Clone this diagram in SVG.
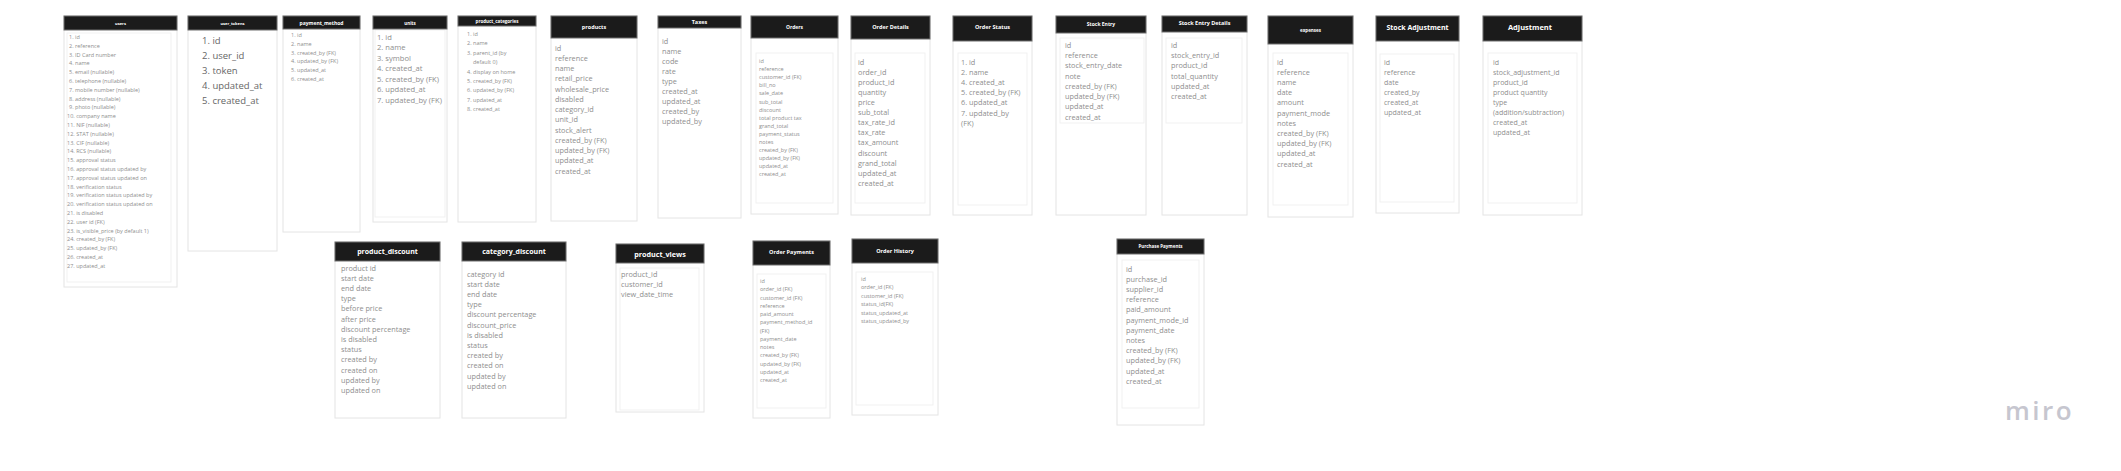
<svg xmlns="http://www.w3.org/2000/svg" width="2121" height="471" viewBox="0 0 2121 471">
<style>
.bg{fill:#ffffff}
.box{fill:#ffffff;stroke:#e4e4e4;stroke-width:1}
.inner{fill:none;stroke:#f1f1f1;stroke-width:1}
.hdr{fill:#1b1b1b;stroke:#6e6e6e;stroke-width:1}
.h{font-family:"Open Sans","Liberation Sans",sans-serif;font-weight:bold;fill:#ffffff;text-anchor:middle}
.t{font-family:"Open Sans","Liberation Sans",sans-serif;fill:#8e8e8e}
.s{font-size:5.5px}
.m{font-size:7.3px}
.logo{font-family:"Open Sans","Liberation Sans",sans-serif;font-size:26px;font-weight:600;fill:#c6c6cf;letter-spacing:2.5px}
</style>
<rect class="bg" x="0" y="0" width="2121" height="471"/>
<g id="connectors"/>

<g id="users">
<rect class="box" x="64" y="16" width="113" height="271"/>
<rect class="inner" x="67" y="33" width="104" height="249"/>
<rect class="hdr" x="64" y="16" width="113" height="14"/>
<text class="h" x="120.5" y="24.5" font-size="4">users</text>
<text class="t s" y="39">
<tspan x="69">1. id</tspan>
<tspan x="69" dy="8.8">2. reference</tspan>
<tspan x="69" dy="8.8">3. ID Card number</tspan>
<tspan x="69" dy="8.8">4. name</tspan>
<tspan x="69" dy="8.8">5. email (nullable)</tspan>
<tspan x="69" dy="8.8">6. telephone (nullable)</tspan>
<tspan x="69" dy="8.8">7. mobile number (nullable)</tspan>
<tspan x="69" dy="8.8">8. address (nullable)</tspan>
<tspan x="69" dy="8.8">9. photo (nullable)</tspan>
<tspan x="67" dy="8.8">10. company name</tspan>
<tspan x="67" dy="8.8">11. NIF (nullable)</tspan>
<tspan x="67" dy="8.8">12. STAT (nullable)</tspan>
<tspan x="67" dy="8.8">13. CIF (nullable)</tspan>
<tspan x="67" dy="8.8">14. RCS (nullable)</tspan>
<tspan x="67" dy="8.8">15. approval status</tspan>
<tspan x="67" dy="8.8">16. approval status updated by</tspan>
<tspan x="67" dy="8.8">17. approval status updated on</tspan>
<tspan x="67" dy="8.8">18. verification status</tspan>
<tspan x="67" dy="8.8">19. verification status updated by</tspan>
<tspan x="67" dy="8.8">20. verification status updated on</tspan>
<tspan x="67" dy="8.8">21. is disabled</tspan>
<tspan x="67" dy="8.8">22. user id (FK)</tspan>
<tspan x="67" dy="8.8">23. is_visible_price (by default 1)</tspan>
<tspan x="67" dy="8.8">24. created_by (FK)</tspan>
<tspan x="67" dy="8.8">25. updated_by (FK)</tspan>
<tspan x="67" dy="8.8">26. created_at</tspan>
<tspan x="67" dy="8.8">27. updated_at</tspan>
</text>
</g>

<g id="user_tokens">
<rect class="box" x="188" y="16" width="89" height="235"/>
<rect class="hdr" x="188" y="16" width="89" height="14"/>
<text class="h" x="232.5" y="24.5" font-size="4">user_tokens</text>
<text class="t" y="44.4" font-size="9.5" style="fill:#666">
<tspan x="202">1. id</tspan>
<tspan x="202" dy="14.8">2. user_id</tspan>
<tspan x="202" dy="14.8">3. token</tspan>
<tspan x="202" dy="14.8">4. updated_at</tspan>
<tspan x="202" dy="14.8">5. created_at</tspan>
</text>
</g>

<g id="payment_method">
<rect class="box" x="283" y="16" width="77" height="216"/>
<rect class="hdr" x="283" y="16" width="77" height="13"/>
<text class="h" x="321.5" y="24.5" font-size="5">payment_method</text>
<text class="t s" y="37">
<tspan x="291">1. id</tspan>
<tspan x="291" dy="8.8">2. name</tspan>
<tspan x="291" dy="8.8">3. created_by (FK)</tspan>
<tspan x="291" dy="8.8">4. updated_by (FK)</tspan>
<tspan x="291" dy="8.8">5. updated_at</tspan>
<tspan x="291" dy="8.8">6. created_at</tspan>
</text>
</g>

<g id="units">
<rect class="box" x="373" y="16" width="74" height="206"/>
<rect class="inner" x="375" y="30" width="70" height="187"/>
<rect class="hdr" x="373" y="16" width="74" height="13"/>
<text class="h" x="410" y="24.5" font-size="4.5">units</text>
<text class="t" y="39.7" font-size="7.6">
<tspan x="377">1. id</tspan>
<tspan x="377" dy="10.5">2. name</tspan>
<tspan x="377" dy="10.5">3. symbol</tspan>
<tspan x="377" dy="10.5">4. created_at</tspan>
<tspan x="377" dy="10.5">5. created_by (FK)</tspan>
<tspan x="377" dy="10.5">6. updated_at</tspan>
<tspan x="377" dy="10.5">7. updated_by (FK)</tspan>
</text>
</g>

<g id="product_categories">
<rect class="box" x="458" y="16" width="78" height="206"/>
<rect class="hdr" x="458" y="16" width="78" height="10"/>
<text class="h" x="497" y="22.6" font-size="4.5">product_categories</text>
<text class="t s" y="36">
<tspan x="467">1. id</tspan>
<tspan x="467" dy="9.4">2. name</tspan>
<tspan x="467" dy="9.4">3. parent_id (by</tspan>
<tspan x="473" dy="9.4">default 0)</tspan>
<tspan x="467" dy="9.4">4. display on home</tspan>
<tspan x="467" dy="9.4">5. created_by (FK)</tspan>
<tspan x="467" dy="9.4">6. updated_by (FK)</tspan>
<tspan x="467" dy="9.4">7. updated_at</tspan>
<tspan x="467" dy="9.4">8. created_at</tspan>
</text>
</g>

<g id="products">
<rect class="box" x="551" y="16" width="86" height="205"/>
<rect class="hdr" x="551" y="16" width="86" height="22"/>
<text class="h" x="594" y="29" font-size="5.5">products</text>
<text class="t m" y="50.5">
<tspan x="555">id</tspan>
<tspan x="555" dy="10.25">reference</tspan>
<tspan x="555" dy="10.25">name</tspan>
<tspan x="555" dy="10.25">retail_price</tspan>
<tspan x="555" dy="10.25">wholesale_price</tspan>
<tspan x="555" dy="10.25">disabled</tspan>
<tspan x="555" dy="10.25">category_id</tspan>
<tspan x="555" dy="10.25">unit_id</tspan>
<tspan x="555" dy="10.25">stock_alert</tspan>
<tspan x="555" dy="10.25">created_by (FK)</tspan>
<tspan x="555" dy="10.25">updated_by (FK)</tspan>
<tspan x="555" dy="10.25">updated_at</tspan>
<tspan x="555" dy="10.25">created_at</tspan>
</text>
</g>

<g id="taxes">
<rect class="box" x="658" y="16" width="83" height="202"/>
<rect class="hdr" x="658" y="16" width="83" height="12"/>
<text class="h" x="699.5" y="24" font-size="5.5">Taxes</text>
<text class="t m" y="43.5">
<tspan x="662">id</tspan>
<tspan x="662" dy="10.1">name</tspan>
<tspan x="662" dy="10.1">code</tspan>
<tspan x="662" dy="10.1">rate</tspan>
<tspan x="662" dy="10.1">type</tspan>
<tspan x="662" dy="10.1">created_at</tspan>
<tspan x="662" dy="10.1">updated_at</tspan>
<tspan x="662" dy="10.1">created_by</tspan>
<tspan x="662" dy="10.1">updated_by</tspan>
</text>
</g>

<g id="orders">
<rect class="box" x="751" y="16" width="87" height="198"/>
<rect class="inner" x="756" y="53" width="77" height="150"/>
<rect class="hdr" x="751" y="16" width="87" height="22"/>
<text class="h" x="794.5" y="28.8" font-size="5">Orders</text>
<text class="t s" y="63">
<tspan x="759">id</tspan>
<tspan x="759" dy="8.1">reference</tspan>
<tspan x="759" dy="8.1">customer_id (FK)</tspan>
<tspan x="759" dy="8.1">bill_no</tspan>
<tspan x="759" dy="8.1">sale_date</tspan>
<tspan x="759" dy="8.1">sub_total</tspan>
<tspan x="759" dy="8.1">discount</tspan>
<tspan x="759" dy="8.1">total product tax</tspan>
<tspan x="759" dy="8.1">grand_total</tspan>
<tspan x="759" dy="8.1">payment_status</tspan>
<tspan x="759" dy="8.1">notes</tspan>
<tspan x="759" dy="8.1">created_by (FK)</tspan>
<tspan x="759" dy="8.1">updated_by (FK)</tspan>
<tspan x="759" dy="8.1">updated_at</tspan>
<tspan x="759" dy="8.1">created_at</tspan>
</text>
</g>

<g id="order_details">
<rect class="box" x="851" y="16" width="79" height="199"/>
<rect class="inner" x="855" y="53" width="70" height="150"/>
<rect class="hdr" x="851" y="16" width="79" height="23"/>
<text class="h" x="890.5" y="29" font-size="5.5">Order Details</text>
<text class="t m" y="64.6">
<tspan x="858">id</tspan>
<tspan x="858" dy="10.1">order_id</tspan>
<tspan x="858" dy="10.1">product_id</tspan>
<tspan x="858" dy="10.1">quantity</tspan>
<tspan x="858" dy="10.1">price</tspan>
<tspan x="858" dy="10.1">sub_total</tspan>
<tspan x="858" dy="10.1">tax_rate_id</tspan>
<tspan x="858" dy="10.1">tax_rate</tspan>
<tspan x="858" dy="10.1">tax_amount</tspan>
<tspan x="858" dy="10.1">discount</tspan>
<tspan x="858" dy="10.1">grand_total</tspan>
<tspan x="858" dy="10.1">updated_at</tspan>
<tspan x="858" dy="10.1">created_at</tspan>
</text>
</g>

<g id="order_status">
<rect class="box" x="953" y="16" width="79" height="199"/>
<rect class="inner" x="958" y="53" width="69" height="152"/>
<rect class="hdr" x="953" y="16" width="79" height="25"/>
<text class="h" x="992.5" y="29" font-size="5.5">Order Status</text>
<text class="t m" y="64.6">
<tspan x="961">1. id</tspan>
<tspan x="961" dy="10.2">2. name</tspan>
<tspan x="961" dy="10.2">4. created_at</tspan>
<tspan x="961" dy="10.2">5. created_by (FK)</tspan>
<tspan x="961" dy="10.2">6. updated_at</tspan>
<tspan x="961" dy="10.2">7. updated_by</tspan>
<tspan x="961" dy="10.2">(FK)</tspan>
</text>
</g>

<g id="stock_entry">
<rect class="box" x="1056" y="16" width="90" height="199"/>
<rect class="inner" x="1060" y="38" width="84" height="85"/>
<rect class="hdr" x="1056" y="16" width="90" height="17"/>
<text class="h" x="1101" y="26" font-size="5">Stock Entry</text>
<text class="t m" y="47.6">
<tspan x="1065">id</tspan>
<tspan x="1065" dy="10.3">reference</tspan>
<tspan x="1065" dy="10.3">stock_entry_date</tspan>
<tspan x="1065" dy="10.3">note</tspan>
<tspan x="1065" dy="10.3">created_by (FK)</tspan>
<tspan x="1065" dy="10.3">updated_by (FK)</tspan>
<tspan x="1065" dy="10.3">updated_at</tspan>
<tspan x="1065" dy="10.3">created_at</tspan>
</text>
</g>

<g id="stock_entry_details">
<rect class="box" x="1162" y="16" width="85" height="199"/>
<rect class="inner" x="1166" y="38" width="76" height="85"/>
<rect class="hdr" x="1162" y="16" width="85" height="16"/>
<text class="h" x="1204.5" y="25" font-size="5.5">Stock Entry Details</text>
<text class="t m" y="47.6">
<tspan x="1171">id</tspan>
<tspan x="1171" dy="10.3">stock_entry_id</tspan>
<tspan x="1171" dy="10.3">product_id</tspan>
<tspan x="1171" dy="10.3">total_quantity</tspan>
<tspan x="1171" dy="10.3">updated_at</tspan>
<tspan x="1171" dy="10.3">created_at</tspan>
</text>
</g>

<g id="expenses">
<rect class="box" x="1268" y="16" width="85" height="201"/>
<rect class="inner" x="1273" y="53" width="75" height="152"/>
<rect class="hdr" x="1268" y="16" width="85" height="28"/>
<text class="h" x="1310.5" y="31.5" font-size="4.5">expenses</text>
<text class="t m" y="64.6">
<tspan x="1277">id</tspan>
<tspan x="1277" dy="10.2">reference</tspan>
<tspan x="1277" dy="10.2">name</tspan>
<tspan x="1277" dy="10.2">date</tspan>
<tspan x="1277" dy="10.2">amount</tspan>
<tspan x="1277" dy="10.2">payment_mode</tspan>
<tspan x="1277" dy="10.2">notes</tspan>
<tspan x="1277" dy="10.2">created_by (FK)</tspan>
<tspan x="1277" dy="10.2">updated_by (FK)</tspan>
<tspan x="1277" dy="10.2">updated_at</tspan>
<tspan x="1277" dy="10.2">created_at</tspan>
</text>
</g>

<g id="stock_adjustment">
<rect class="box" x="1376" y="16" width="83" height="197"/>
<rect class="inner" x="1380" y="54" width="74" height="148"/>
<rect class="hdr" x="1376" y="16" width="83" height="25"/>
<text class="h" x="1417.5" y="29.5" font-size="7">Stock Adjustment</text>
<text class="t" y="64.5" font-size="7">
<tspan x="1384">id</tspan>
<tspan x="1384" dy="10">reference</tspan>
<tspan x="1384" dy="10">date</tspan>
<tspan x="1384" dy="10">created_by</tspan>
<tspan x="1384" dy="10">created_at</tspan>
<tspan x="1384" dy="10">updated_at</tspan>
</text>
</g>

<g id="adjustment">
<rect class="box" x="1483" y="16" width="99" height="199"/>
<rect class="inner" x="1488" y="53" width="89" height="150"/>
<rect class="hdr" x="1483" y="16" width="99" height="25"/>
<text class="h" x="1530" y="29.7" font-size="7.5">Adjustment</text>
<text class="t" y="64.5" font-size="7">
<tspan x="1493">id</tspan>
<tspan x="1493" dy="10">stock_adjustment_id</tspan>
<tspan x="1493" dy="10">product_id</tspan>
<tspan x="1493" dy="10">product quantity</tspan>
<tspan x="1493" dy="10">type</tspan>
<tspan x="1493" dy="10">(addition/subtraction)</tspan>
<tspan x="1493" dy="10">created_at</tspan>
<tspan x="1493" dy="10">updated_at</tspan>
</text>
</g>

<g id="product_discount">
<rect class="box" x="335" y="242" width="105" height="176"/>
<rect class="hdr" x="335" y="242" width="105" height="19"/>
<text class="h" x="387.5" y="254" font-size="7">product_discount</text>
<text class="t m" y="270.6">
<tspan x="341">product id</tspan>
<tspan x="341" dy="10.2">start date</tspan>
<tspan x="341" dy="10.2">end date</tspan>
<tspan x="341" dy="10.2">type</tspan>
<tspan x="341" dy="10.2">before price</tspan>
<tspan x="341" dy="10.2">after price</tspan>
<tspan x="341" dy="10.2">discount percentage</tspan>
<tspan x="341" dy="10.2">is disabled</tspan>
<tspan x="341" dy="10.2">status</tspan>
<tspan x="341" dy="10.2">created by</tspan>
<tspan x="341" dy="10.2">created on</tspan>
<tspan x="341" dy="10.2">updated by</tspan>
<tspan x="341" dy="10.2">updated on</tspan>
</text>
</g>

<g id="category_discount">
<rect class="box" x="462" y="242" width="104" height="176"/>
<rect class="hdr" x="462" y="242" width="104" height="19"/>
<text class="h" x="514" y="254" font-size="7">category_discount</text>
<text class="t m" y="276.6">
<tspan x="467">category id</tspan>
<tspan x="467" dy="10.2">start date</tspan>
<tspan x="467" dy="10.2">end date</tspan>
<tspan x="467" dy="10.2">type</tspan>
<tspan x="467" dy="10.2">discount percentage</tspan>
<tspan x="467" dy="10.2">discount_price</tspan>
<tspan x="467" dy="10.2">is disabled</tspan>
<tspan x="467" dy="10.2">status</tspan>
<tspan x="467" dy="10.2">created by</tspan>
<tspan x="467" dy="10.2">created on</tspan>
<tspan x="467" dy="10.2">updated by</tspan>
<tspan x="467" dy="10.2">updated on</tspan>
</text>
</g>

<g id="product_views">
<rect class="box" x="616" y="244" width="88" height="168"/>
<rect class="inner" x="620" y="268" width="79" height="142"/>
<rect class="hdr" x="616" y="244" width="88" height="19"/>
<text class="h" x="660" y="256.5" font-size="7.2">product_views</text>
<text class="t m" y="276.6">
<tspan x="621">product_id</tspan>
<tspan x="621" dy="10">customer_id</tspan>
<tspan x="621" dy="10">view_date_time</tspan>
</text>
</g>

<g id="order_payments">
<rect class="box" x="753" y="241" width="77" height="177"/>
<rect class="inner" x="757" y="274" width="69" height="134"/>
<rect class="hdr" x="753" y="241" width="77" height="24"/>
<text class="h" x="791.5" y="254" font-size="5.5">Order Payments</text>
<text class="t s" y="283">
<tspan x="760">id</tspan>
<tspan x="760" dy="8.25">order_id (FK)</tspan>
<tspan x="760" dy="8.25">customer_id (FK)</tspan>
<tspan x="760" dy="8.25">reference</tspan>
<tspan x="760" dy="8.25">paid_amount</tspan>
<tspan x="760" dy="8.25">payment_method_id</tspan>
<tspan x="760" dy="8.25">(FK)</tspan>
<tspan x="760" dy="8.25">payment_date</tspan>
<tspan x="760" dy="8.25">notes</tspan>
<tspan x="760" dy="8.25">created_by (FK)</tspan>
<tspan x="760" dy="8.25">updated_by (FK)</tspan>
<tspan x="760" dy="8.25">updated_at</tspan>
<tspan x="760" dy="8.25">created_at</tspan>
</text>
</g>

<g id="order_history">
<rect class="box" x="852" y="239" width="86" height="176"/>
<rect class="inner" x="856" y="272" width="77" height="133"/>
<rect class="hdr" x="852" y="239" width="86" height="24"/>
<text class="h" x="895" y="253" font-size="5.5">Order History</text>
<text class="t s" y="281">
<tspan x="861">id</tspan>
<tspan x="861" dy="8.4">order_id (FK)</tspan>
<tspan x="861" dy="8.4">customer_id (FK)</tspan>
<tspan x="861" dy="8.4">status_id(FK)</tspan>
<tspan x="861" dy="8.4">status_updated_at</tspan>
<tspan x="861" dy="8.4">status_updated_by</tspan>
</text>
</g>

<g id="purchase_payments">
<rect class="box" x="1117" y="239" width="87" height="186"/>
<rect class="inner" x="1122" y="260" width="77" height="148"/>
<rect class="hdr" x="1117" y="239" width="87" height="15"/>
<text class="h" x="1160.5" y="248" font-size="4.5">Purchase Payments</text>
<text class="t m" y="271.6">
<tspan x="1126">id</tspan>
<tspan x="1126" dy="10.2">purchase_id</tspan>
<tspan x="1126" dy="10.2">supplier_id</tspan>
<tspan x="1126" dy="10.2">reference</tspan>
<tspan x="1126" dy="10.2">paid_amount</tspan>
<tspan x="1126" dy="10.2">payment_mode_id</tspan>
<tspan x="1126" dy="10.2">payment_date</tspan>
<tspan x="1126" dy="10.2">notes</tspan>
<tspan x="1126" dy="10.2">created_by (FK)</tspan>
<tspan x="1126" dy="10.2">updated_by (FK)</tspan>
<tspan x="1126" dy="10.2">updated_at</tspan>
<tspan x="1126" dy="10.2">created_at</tspan>
</text>
</g>

<text class="logo" x="2005" y="420">miro</text>
</svg>
